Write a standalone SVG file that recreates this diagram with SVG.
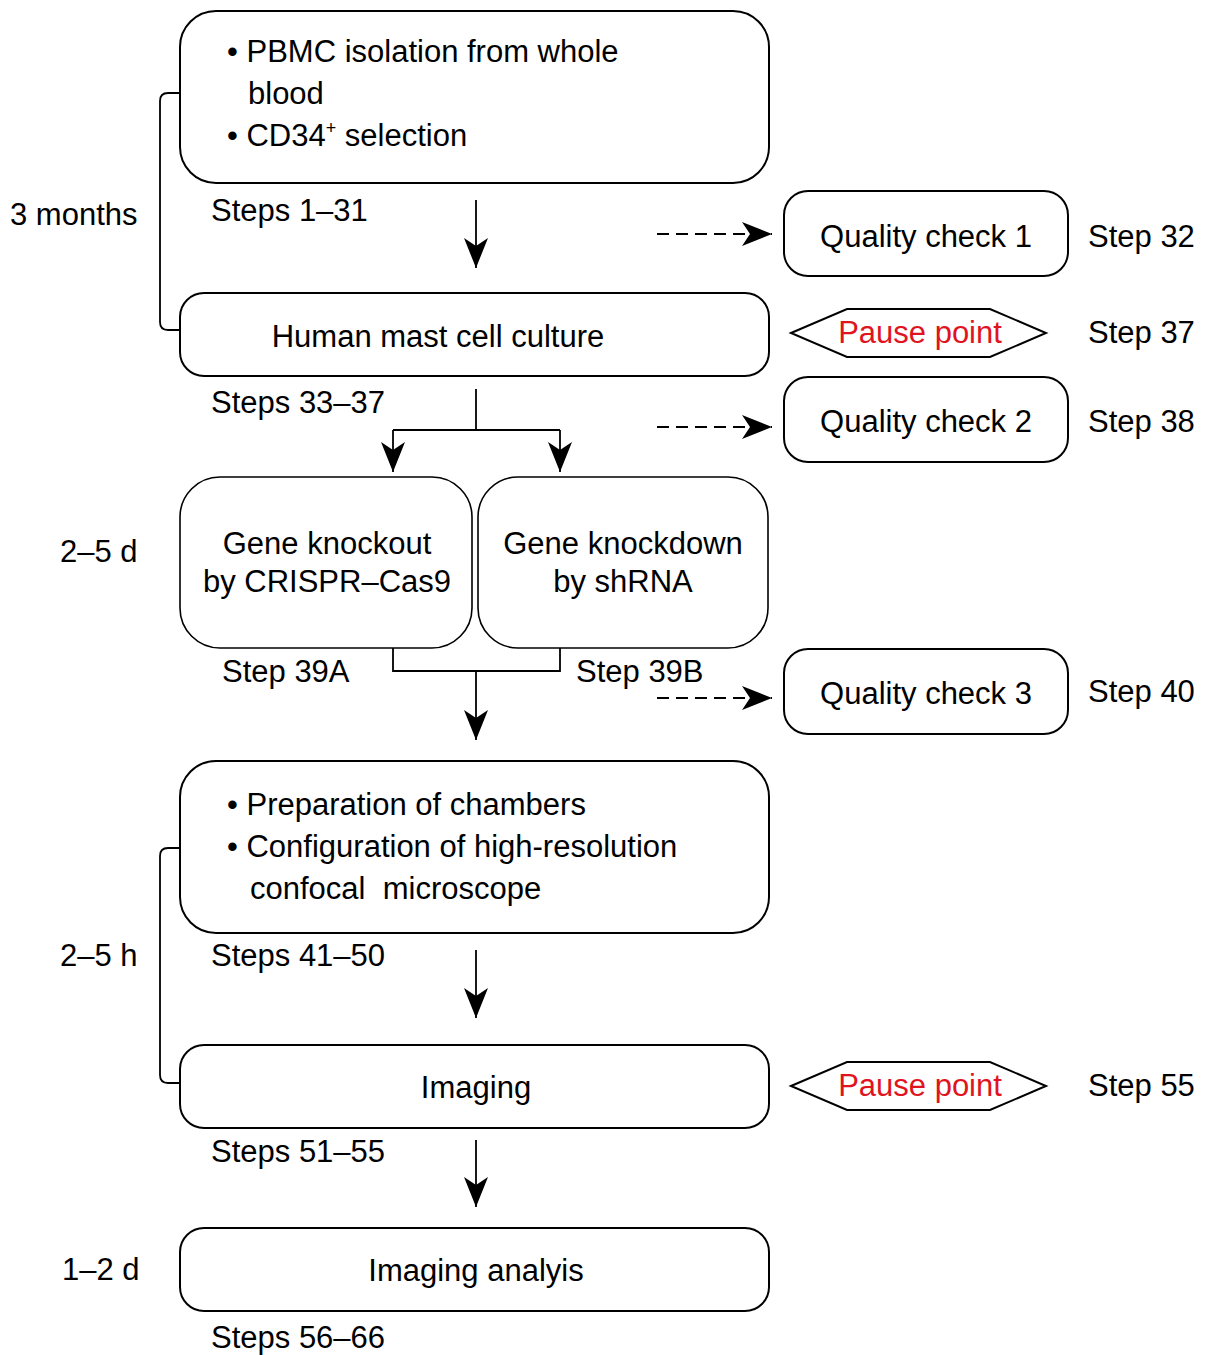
<svg xmlns="http://www.w3.org/2000/svg" width="1212" height="1355" viewBox="0 0 1212 1355">
<style>
  text { font-family: "Liberation Sans", Arial, sans-serif; font-size: 31px; fill: #000; }
  .c { text-anchor: middle; }
  .red { fill: #e0141e; }
  .box { fill: #fff; stroke: #000; stroke-width: 2; }
  .thin { stroke-width: 1.6; }
  .ln { fill: none; stroke: #000; stroke-width: 1.8; }
  .dash { fill: none; stroke: #000; stroke-width: 1.8; stroke-dasharray: 12 7; }
</style>
<defs>
  <marker id="ah" markerUnits="userSpaceOnUse" markerWidth="32" markerHeight="26" refX="30" refY="13" orient="auto">
    <path d="M0,1 L30,13 L0,25 L8,13 Z" fill="#000"/>
  </marker>
</defs>
<rect width="1212" height="1355" fill="#fff"/>

<g id="connectors">
  <line class="ln" x1="476" y1="200" x2="476" y2="268" marker-end="url(#ah)"/>
  <line class="dash" x1="657" y1="234" x2="772" y2="234" marker-end="url(#ah)"/>
  <path class="ln" d="M476,389 L476,430"/>
  <path class="ln" d="M393,430 L560,430"/>
  <line class="ln" x1="393" y1="430" x2="393" y2="472" marker-end="url(#ah)"/>
  <line class="ln" x1="560" y1="430" x2="560" y2="472" marker-end="url(#ah)"/>
  <line class="dash" x1="657" y1="427" x2="772" y2="427" marker-end="url(#ah)"/>
  <path class="ln" d="M393,648 L393,671 L560,671 L560,648"/>
  <line class="ln" x1="476" y1="671" x2="476" y2="740" marker-end="url(#ah)"/>
  <line class="dash" x1="657" y1="698" x2="772" y2="698" marker-end="url(#ah)"/>
  <line class="ln" x1="476" y1="950" x2="476" y2="1018" marker-end="url(#ah)"/>
  <line class="ln" x1="476" y1="1140" x2="476" y2="1207" marker-end="url(#ah)"/>
  <path class="ln" d="M180,93 L168,93 Q160,93 160,101 L160,322 Q160,330 168,330 L180,330"/>
  <path class="ln" d="M180,848 L168,848 Q160,848 160,856 L160,1075 Q160,1083 168,1083 L180,1083"/>
</g>

<g id="labels">
  <text x="10" y="225">3 months</text>
  <text x="60" y="562">2–5 d</text>
  <text x="60" y="966">2–5 h</text>
  <text x="62" y="1280">1–2 d</text>
  <text x="211" y="221">Steps 1–31</text>
  <text x="211" y="413">Steps 33–37</text>
  <text x="222" y="682">Step 39A</text>
  <text x="576" y="682">Step 39B</text>
  <text x="211" y="966">Steps 41–50</text>
  <text x="211" y="1162">Steps 51–55</text>
  <text x="211" y="1348">Steps 56–66</text>
  <text x="1088" y="247">Step 32</text>
  <text x="1088" y="343">Step 37</text>
  <text x="1088" y="432">Step 38</text>
  <text x="1088" y="702">Step 40</text>
  <text x="1088" y="1096">Step 55</text>
</g>

<g id="node-pbmc">
  <rect class="box" x="180" y="11" width="589" height="172" rx="36"/>
  <text x="227" y="62">• PBMC isolation from whole</text>
  <text x="248" y="104">blood</text>
  <text x="227" y="146">• CD34<tspan dy="-12" font-size="18">+</tspan><tspan dy="12"> selection</tspan></text>
</g>

<g id="node-qc1">
  <rect class="box" x="784" y="191" width="284" height="85" rx="24"/>
  <text class="c" x="926" y="247">Quality check 1</text>
</g>

<g id="node-culture">
  <rect class="box" x="180" y="293" width="589" height="83" rx="24"/>
  <text class="c" x="438" y="347">Human mast cell culture</text>
</g>

<g id="node-pause1">
  <polygon class="box" points="791,333 847,309 990,309 1046,333 990,357 847,357"/>
  <text class="c red" x="920" y="343">Pause point</text>
</g>

<g id="node-qc2">
  <rect class="box" x="784" y="377" width="284" height="85" rx="24"/>
  <text class="c" x="926" y="432">Quality check 2</text>
</g>

<g id="node-knockout">
  <rect class="box thin" x="180" y="477" width="292" height="171" rx="40"/>
  <text class="c" x="327" y="554">Gene knockout</text>
  <text class="c" x="327" y="592">by CRISPR–Cas9</text>
</g>

<g id="node-knockdown">
  <rect class="box thin" x="478" y="477" width="290" height="171" rx="40"/>
  <text class="c" x="623" y="554">Gene knockdown</text>
  <text class="c" x="623" y="592">by shRNA</text>
</g>

<g id="node-qc3">
  <rect class="box" x="784" y="649" width="284" height="85" rx="24"/>
  <text class="c" x="926" y="704">Quality check 3</text>
</g>

<g id="node-chambers">
  <rect class="box" x="180" y="761" width="589" height="172" rx="36"/>
  <text x="227" y="815">• Preparation of chambers</text>
  <text x="227" y="857">• Configuration of high-resolution</text>
  <text x="250" y="899" xml:space="preserve">confocal  microscope</text>
</g>

<g id="node-imaging">
  <rect class="box" x="180" y="1045" width="589" height="83" rx="24"/>
  <text class="c" x="476" y="1098">Imaging</text>
</g>

<g id="node-pause2">
  <polygon class="box" points="791,1086 847,1062 990,1062 1046,1086 990,1110 847,1110"/>
  <text class="c red" x="920" y="1096">Pause point</text>
</g>

<g id="node-analysis">
  <rect class="box" x="180" y="1228" width="589" height="83" rx="24"/>
  <text class="c" x="476" y="1281">Imaging analyis</text>
</g>
</svg>
